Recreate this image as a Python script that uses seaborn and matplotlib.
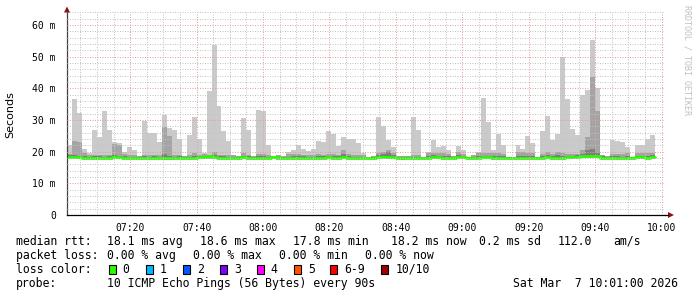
import matplotlib
matplotlib.use("Agg")
import matplotlib.pyplot as plt
from matplotlib.patches import Polygon, Rectangle
from matplotlib.ticker import MultipleLocator, FixedLocator, FixedFormatter
import numpy as np
import seaborn as sns

# ---------------- data (ms), one value per 90 s step starting 07:01 ----------------
step_start_min = 1.0      # minutes after 07:00 of the first step
step_len_min = 1.5        # 90 s

ping_max = [
    22.2, 36.6, 32.2, 20.9, 19.6, 26.9, 24.6, 32.8, 26.9, 23.0,
    22.7, 19.8, 21.4, 20.6, 18.7, 29.8, 26.0, 26.0, 23.1, 31.6,
    27.6, 26.9, 24.1, 18.6, 25.3, 30.9, 24.0, 19.6, 39.1, 53.8,
    34.4, 26.6, 23.4, 19.0, 18.7, 30.6, 26.9, 18.6, 33.1, 32.8,
    22.2, 18.6, 19.0, 18.6, 19.9, 20.6, 22.2, 20.9, 20.1, 20.9,
    23.4, 22.9, 26.6, 25.6, 21.7, 24.5, 24.1, 24.1, 22.7, 19.6,
    18.3, 18.6, 30.8, 28.0, 23.8, 21.6, 18.7, 18.6, 18.6, 30.8,
    26.9, 18.4, 19.9, 23.8, 21.6, 21.9, 20.6, 18.6, 21.9, 20.6,
    18.3, 19.1, 20.0, 36.9, 29.4, 20.6, 25.6, 22.2, 18.3, 18.3,
    22.2, 20.9, 25.0, 22.7, 18.3, 26.6, 31.3, 23.8, 25.6, 50.0,
    36.6, 27.2, 25.3, 37.9, 39.4, 55.3, 40.0, 19.1, 18.6, 23.8,
    23.4, 22.9, 21.4, 18.3, 22.2, 22.2, 23.9, 25.3,
]

ping_p9 = [
    19.3, 23.4, 23.2, 19.6, 18.9, 19.0, 19.0, 19.0, 19.0, 22.5,
    22.2, 19.2, 18.9, 18.8, 18.6, 19.0, 19.0, 19.1, 19.0, 27.9,
    24.8, 19.0, 19.0, 18.6, 18.9, 19.5, 18.9, 19.3, 19.1, 19.8,
    19.1, 19.0, 18.9, 18.8, 18.6, 19.7, 19.0, 18.6, 19.3, 19.3,
    18.9, 18.6, 18.8, 18.6, 19.3, 19.3, 19.3, 19.0, 18.9, 19.0,
    19.2, 19.0, 19.3, 19.4, 19.0, 20.6, 19.3, 18.9, 19.0, 18.9,
    18.3, 18.6, 19.6, 20.0, 20.6, 19.5, 18.7, 18.6, 18.6, 19.0,
    19.0, 18.4, 19.5, 19.5, 19.5, 19.6, 19.2, 18.6, 20.0, 19.3,
    18.3, 19.0, 19.6, 19.6, 19.6, 19.5, 19.5, 19.4, 18.3, 18.3,
    19.8, 19.8, 19.6, 19.5, 18.3, 19.2, 20.0, 19.4, 20.0, 19.6,
    19.4, 19.3, 19.4, 20.5, 24.7, 43.5, 32.8, 19.1, 18.6, 19.2,
    19.3, 19.3, 19.6, 18.3, 19.6, 19.6, 19.6, 19.6,
]

ping_p8 = [
    19.1, 19.0, 18.7, 18.5, 18.3, 18.5, 18.5, 18.4, 18.5, 19.0,
    18.7, 18.5, 18.4, 18.4, 18.4, 18.5, 18.4, 18.5, 18.4, 19.2,
    18.6, 18.4, 18.5, 18.4, 18.4, 18.6, 18.5, 18.7, 18.8, 18.8,
    18.5, 18.5, 18.4, 18.3, 18.3, 18.6, 18.5, 18.3, 18.5, 18.5,
    18.4, 18.4, 18.4, 18.3, 18.4, 18.5, 18.6, 18.5, 18.4, 18.4,
    18.5, 18.5, 18.6, 18.5, 18.5, 19.2, 18.6, 18.4, 18.4, 18.3,
    18.1, 18.3, 18.8, 19.2, 19.8, 18.8, 18.4, 18.2, 18.2, 18.4,
    18.4, 18.2, 18.6, 18.8, 18.7, 18.6, 18.5, 18.3, 18.8, 18.6,
    18.2, 18.4, 18.6, 18.7, 18.7, 18.5, 18.5, 18.6, 18.2, 18.2,
    18.7, 18.6, 18.6, 18.5, 18.3, 18.6, 19.0, 18.6, 18.9, 18.6,
    18.7, 18.7, 18.8, 19.3, 20.4, 20.8, 19.5, 18.5, 18.3, 18.5,
    18.5, 18.4, 18.6, 18.2, 18.7, 18.7, 18.5, 18.8,
]

median_rtt = [
    18.3, 18.2, 18.2, 18.1, 18.0, 18.1, 18.1, 18.0, 18.0, 18.2,
    18.2, 18.1, 18.0, 18.0, 18.1, 18.1, 18.0, 18.0, 17.9, 17.9,
    17.9, 18.0, 18.1, 18.1, 18.0, 18.1, 18.2, 18.3, 18.5, 18.4,
    18.1, 18.1, 18.0, 18.0, 18.0, 18.2, 18.1, 18.0, 18.0, 18.0,
    18.0, 18.2, 18.1, 18.0, 18.0, 18.0, 18.1, 18.1, 18.0, 18.0,
    18.1, 18.1, 18.2, 18.1, 18.1, 18.3, 18.1, 18.0, 18.0, 18.0,
    17.9, 18.0, 18.3, 18.4, 18.4, 18.3, 18.1, 17.9, 17.9, 18.0,
    18.0, 17.9, 18.1, 18.2, 18.2, 18.1, 18.1, 18.0, 18.3, 18.2,
    18.0, 18.0, 18.1, 18.2, 18.2, 18.0, 18.0, 18.1, 18.0, 18.0,
    18.1, 18.1, 18.1, 18.1, 18.1, 18.1, 18.2, 18.1, 18.1, 18.1,
    18.2, 18.3, 18.3, 18.5, 18.6, 18.6, 18.5, 18.1, 18.0, 18.0,
    18.1, 18.0, 18.1, 18.0, 18.2, 18.2, 18.1, 18.3,
]

ping_min = [
    17.8, 17.7, 17.6, 17.7, 17.7, 17.7, 17.7, 17.6, 17.6, 17.7,
    17.8, 17.7, 17.6, 17.6, 17.7, 17.7, 17.6, 17.6, 17.6, 17.5,
    17.5, 17.6, 17.7, 17.7, 17.6, 17.7, 17.8, 17.8, 17.8, 17.8,
    17.7, 17.7, 17.6, 17.6, 17.7, 17.7, 17.7, 17.6, 17.6, 17.6,
    17.6, 17.8, 17.7, 17.6, 17.6, 17.6, 17.7, 17.7, 17.6, 17.6,
    17.7, 17.7, 17.8, 17.7, 17.7, 17.8, 17.7, 17.6, 17.6, 17.6,
    17.6, 17.6, 17.8, 17.9, 17.8, 17.8, 17.6, 17.5, 17.6, 17.6,
    17.6, 17.6, 17.7, 17.8, 17.8, 17.7, 17.7, 17.6, 17.8, 17.7,
    17.7, 17.6, 17.7, 17.8, 17.8, 17.6, 17.6, 17.7, 17.7, 17.7,
    17.7, 17.7, 17.7, 17.7, 17.7, 17.7, 17.8, 17.7, 17.7, 17.7,
    17.8, 17.8, 17.9, 18.0, 18.0, 18.0, 17.9, 17.7, 17.6, 17.6,
    17.7, 17.6, 17.7, 17.7, 17.8, 17.8, 17.7, 17.8,
]

x_tick_minutes = [20, 40, 60, 80, 100, 120, 140, 160, 180]
x_tick_labels = ["07:20", "07:40", "08:00", "08:20", "08:40",
                 "09:00", "09:20", "09:40", "10:00"]
y_tick_values = [0, 10, 20, 30, 40, 50, 60]
y_tick_labels = ["0", "10 m", "20 m", "30 m", "40 m", "50 m", "60 m"]

legend_rtt = [("median rtt:", 16), ("18.1 ms avg", 107.3), ("18.6 ms max", 200),
              ("17.8 ms min", 292.7), ("18.2 ms now", 391.3), ("0.2 ms sd", 479.3),
              ("112.0", 558), ("am/s", 613.7)]
legend_loss = [("packet loss:", 16), ("0.00 % avg", 107.3), ("0.00 % max", 193.3),
               ("0.00 % min", 279.3), ("0.00 % now", 365.3)]
loss_labels = ["0", "1", "2", "3", "4", "5", "6-9", "10/10"]
loss_colors = ["#26ff00", "#00b8ff", "#0059ff", "#7e00ff", "#ff00ff",
               "#ff5500", "#ff0000", "#a10000"]
loss_box_x = [108.7, 145.7, 182.7, 220.0, 256.7, 294.0, 330.0, 381.3]
probe_text = "10 ICMP Echo Pings (56 Bytes) every 90s"
date_text = "Sat Mar  7 10:01:00 2026"

# ---------------- figure ----------------
W, H = 697, 297
sns.set_theme(style="white")
plt.rcParams["font.family"] = ["DejaVu Sans Mono", "DejaVu Sans"]

fig = plt.figure(figsize=(W / 100, H / 100), dpi=100, facecolor="white")

px_per_ms = 31.67 / 10.0
y_top = 64.2
ax_left, ax_right, ax_bottom_px = 67, 665, 215
ax_h = y_top * px_per_ms
ax = fig.add_axes([ax_left / W, (H - ax_bottom_px) / H,
                   (ax_right - ax_left) / W, ax_h / H])
ax.set_facecolor("white")

n = len(ping_max)
edges = step_start_min + step_len_min * np.arange(n + 1)

# smoke layers
ax.stairs(ping_max, edges, baseline=ping_min, fill=True, color="#cacaca", lw=0, zorder=1)
ax.stairs(ping_p9, edges, baseline=ping_min, fill=True, color="#a4a4a4", lw=0, zorder=1.1)
ax.stairs(ping_p8, edges, baseline=median_rtt, fill=True, color="#7e7e7e", lw=0, zorder=1.2)

# median line
med_ext = list(median_rtt) + [median_rtt[-1]]
sns.lineplot(x=edges, y=med_ext, drawstyle="steps-post", color="#26ff00",
             lw=2.0, ax=ax, legend=False, zorder=2)

ax.set_xlim(1, 181)
ax.set_ylim(0, y_top)
ax.set_xlabel("")
ax.set_ylabel("")

# ticks and grid
ax.xaxis.set_major_locator(FixedLocator(x_tick_minutes))
ax.xaxis.set_major_formatter(FixedFormatter(x_tick_labels))
ax.xaxis.set_minor_locator(MultipleLocator(5))
ax.yaxis.set_major_locator(FixedLocator(y_tick_values))
ax.yaxis.set_major_formatter(FixedFormatter(y_tick_labels))
ax.yaxis.set_minor_locator(MultipleLocator(2))

ax.tick_params(axis="both", which="major", direction="out", length=3, width=0.7,
               color="#404040", labelsize=7, labelcolor="black")
ax.tick_params(axis="both", which="minor", direction="out", length=2, width=0.7,
               color="#606060")
ax.tick_params(axis="x", which="major", pad=3)
ax.tick_params(axis="y", which="major", pad=5)
for lab in ax.get_xticklabels() + ax.get_yticklabels():
    lab.set_family("DejaVu Sans Mono")

ax.set_axisbelow(False)
ax.grid(True, which="minor", color="#c4c4c4", lw=0.72, linestyle=(0, (1, 1.5)))
ax.grid(True, which="major", color="#e4a0a0", lw=0.72, linestyle=(0, (1, 1.5)))

for s in ["top", "right"]:
    ax.spines[s].set_visible(False)
ax.spines["left"].set_color("#404040")
ax.spines["bottom"].set_color("black")
ax.spines["left"].set_linewidth(0.9)
ax.spines["bottom"].set_linewidth(0.9)


def fx(x):
    return x / W


def fy(y):
    return 1 - y / H


# axis arrows
fig.add_artist(Polygon([(fx(67), fy(6.5)), (fx(64), fy(12.5)), (fx(70), fy(12.5))],
                       closed=True, transform=fig.transFigure, color="#8b1010", lw=0))
fig.add_artist(plt.Line2D([fx(665), fx(668)], [fy(215), fy(215)],
                          transform=fig.transFigure, color="black", lw=0.9))
fig.add_artist(Polygon([(fx(674), fy(215)), (fx(668), fy(212)), (fx(668), fy(218))],
                       closed=True, transform=fig.transFigure, color="#8b1010", lw=0))

# labels
fig.text(fx(10), fy(115), "Seconds", rotation=90, ha="center", va="center",
         fontsize=8, family="DejaVu Sans", color="black")
fig.text(fx(686.5), fy(5), "RRDTOOL / TOBI OETIKER", rotation=270, ha="center",
         va="top", fontsize=6, family="DejaVu Sans Mono", color="#c0c0c0")

# legend lines
fs = 8.3
for txt, x in legend_rtt:
    fig.text(fx(x), fy(241.3), txt, ha="left", va="center", fontsize=fs,
             family="DejaVu Sans Mono", color="black")
for txt, x in legend_loss:
    fig.text(fx(x), fy(255.3), txt, ha="left", va="center", fontsize=fs,
             family="DejaVu Sans Mono", color="black")
fig.text(fx(16), fy(269.3), "loss color:", ha="left", va="center", fontsize=fs,
         family="DejaVu Sans Mono", color="black")
for lab, col, bx in zip(loss_labels, loss_colors, loss_box_x):
    fig.add_artist(Rectangle((fx(bx), fy(274)), 7 / W, 9 / H, transform=fig.transFigure,
                             facecolor=col, edgecolor="black", lw=0.8))
    fig.text(fx(bx + 14), fy(269.3), lab, ha="left", va="center", fontsize=fs,
             family="DejaVu Sans Mono", color="black")
fig.text(fx(16), fy(283.7), "probe:", ha="left", va="center", fontsize=fs,
         family="DejaVu Sans Mono", color="black")
fig.text(fx(107.3), fy(283.7), probe_text, ha="left", va="center", fontsize=fs,
         family="DejaVu Sans Mono", color="black")
fig.text(fx(513), fy(283.7), date_text, ha="left", va="center", fontsize=fs,
         family="DejaVu Sans Mono", color="black")

fig.savefig("out.png", dpi=100, facecolor="white")
